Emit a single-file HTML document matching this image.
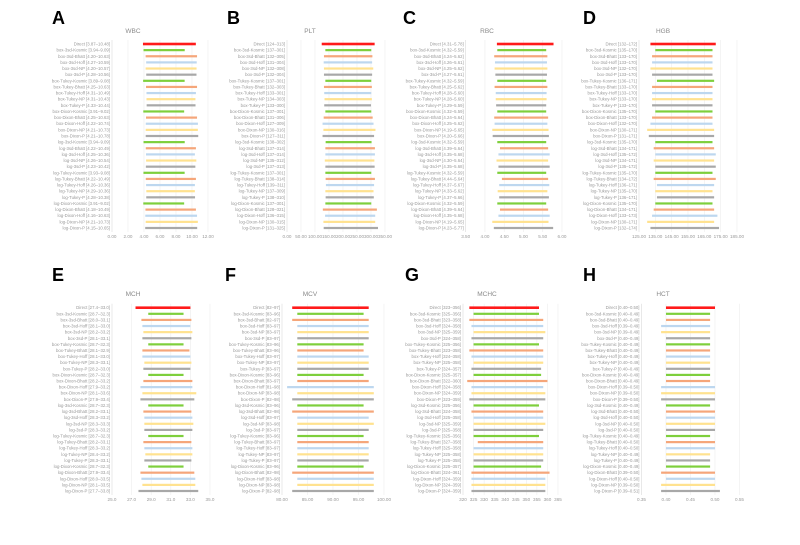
<!DOCTYPE html>
<html><head><meta charset="utf-8"><style>
body{margin:0;background:#fff}
svg{display:block;font-family:"Liberation Sans",sans-serif}
</style></head><body>
<svg id="fig" width="800" height="545" viewBox="0 0 800 545"></svg>
<script>
const methods = ["Direct"];
["box","log"].forEach(t=>["3sd","Tukey","Dixon"].forEach(o=>["Kosmic","Bhatt","Hoff","NP","P"].forEach(m=>methods.push(t+"-"+o+"-"+m))));
const colorByMethod = ["#ff1a1a"].concat(Array(6).fill(["#7ecf3c","#f5a67a","#bdd7ef","#ffe28f","#a8a8a8"]).flat());

const panelNames = ["WBC","PLT","RBC","HGB","MCH","MCV","MCHC","HCT"];
const panelLetters = ["A","B","C","D","E","F","G","H"];

const wbcLow  = [3.87,3.94,4.20,4.27,4.20,4.28,3.89,4.25,4.31,4.31,4.33,3.91,4.25,4.22,4.21,4.21,3.94,4.22,4.25,4.26,4.23,3.93,4.22,4.26,4.29,4.28,3.91,4.18,4.16,4.21,4.15];
const wbcHigh = [10.48,9.09,10.63,10.59,10.57,10.56,9.08,10.63,10.49,10.43,10.44,9.02,10.63,10.74,10.73,10.78,9.09,10.49,10.36,10.54,10.42,9.08,10.49,10.36,10.36,10.38,9.02,10.49,10.63,10.73,10.65];
const pltLow  = [124,137,132,131,132,132,137,132,133,134,133,137,131,127,130,127,138,137,137,135,137,137,138,139,137,138,137,128,136,130,131];
const pltHigh = [313,301,305,304,308,304,301,303,301,303,300,301,306,309,316,311,302,314,314,312,313,301,314,311,309,310,301,321,315,315,325];
const rbcLow  = [4.31,4.32,4.24,4.26,4.25,4.27,4.32,4.25,4.28,4.28,4.29,4.32,4.24,4.25,4.19,4.20,4.32,4.39,4.35,4.30,4.35,4.32,4.44,4.37,4.33,4.37,4.32,4.39,4.35,4.19,4.23];
const rbcHigh = [5.78,5.59,5.62,5.61,5.62,5.61,5.59,5.62,5.60,5.60,5.59,5.59,5.64,5.62,5.65,5.66,5.59,5.64,5.68,5.64,5.68,5.59,5.64,5.67,5.62,5.66,5.59,5.64,5.68,5.65,5.77];
const hgbLow  = [132,135,133,133,132,133,136,133,133,133,133,135,133,132,130,131,135,134,135,134,135,135,134,136,135,136,135,134,133,130,132];
const hgbHigh = [172,170,170,170,170,170,171,170,170,170,170,170,170,170,171,171,170,171,172,171,172,170,172,171,170,171,170,171,173,171,174];
const mchLow  = [27.4,28.7,28.0,28.1,28.2,28.1,28.7,28.1,28.1,28.3,28.2,28.7,28.2,27.9,28.1,27.9,28.7,28.2,28.3,28.3,28.3,28.7,28.2,28.3,28.4,28.3,28.7,27.9,28.0,28.1,27.7];
const mchHigh = [33.0,32.3,33.1,33.0,33.2,33.1,32.3,32.9,33.0,33.1,33.0,32.3,33.2,33.2,33.6,33.4,32.3,33.1,33.2,33.3,33.2,32.3,33.1,33.2,33.2,33.1,32.3,33.4,33.5,33.5,33.8];
const mcvLow  = [82,83,82,83,83,83,83,83,83,83,83,83,83,81,83,82,83,82,83,83,83,83,83,83,83,83,83,82,83,83,82];
const mcvHigh = [97,96,97,97,97,97,96,96,97,97,97,96,97,98,98,98,96,98,97,98,97,96,97,97,97,97,96,98,98,98,98];
const mchcLow  = [323,325,323,324,325,324,325,323,324,325,324,325,322,324,324,323,325,324,325,325,325,325,327,325,325,325,325,324,324,324,324];
const mchcHigh = [356,356,358,358,359,358,356,358,358,358,357,357,360,358,359,359,356,358,358,359,358,356,358,358,358,358,357,361,359,359,359];
const hctLow  = [0.40,0.40,0.40,0.39,0.39,0.40,0.40,0.40,0.40,0.40,0.40,0.40,0.40,0.39,0.39,0.39,0.40,0.40,0.40,0.40,0.40,0.40,0.40,0.40,0.40,0.40,0.40,0.39,0.40,0.39,0.39];
const hctHigh = [0.50,0.49,0.49,0.49,0.49,0.49,0.49,0.49,0.49,0.49,0.49,0.49,0.49,0.50,0.50,0.50,0.49,0.50,0.50,0.50,0.50,0.49,0.50,0.50,0.49,0.49,0.49,0.50,0.50,0.50,0.51];

const wbcTicks = [0,2,4,6,8,10,12];
const pltTicks = [0,50,100,150,200,250,300,350];
const rbcTicks = [3.5,4,4.5,5,5.5,6];
const hgbTicks = [125,135,145,155,165,175,185];
const mchTicks = [25,27,29,31,33,35];
const mcvTicks = [80,85,90,95,100];
const mchcTicks = [320,325,330,335,340,345,350,355,360,365];
const hctTicks = [0.35,0.40,0.45,0.50,0.55];

const lows = [wbcLow,pltLow,rbcLow,hgbLow,mchLow,mcvLow,mchcLow,hctLow];
const highs = [wbcHigh,pltHigh,rbcHigh,hgbHigh,mchHigh,mcvHigh,mchcHigh,hctHigh];
const ticks = [wbcTicks,pltTicks,rbcTicks,hgbTicks,mchTicks,mcvTicks,mchcTicks,hctTicks];
const tickDec = [2,2,2,2,1,2,0,2];
const labelDec = [2,0,2,0,1,0,0,2];

// layout (pixels)
const px0 = [112,287,465.7,639,112,282,463,641.5];
const px1 = [208,385,562,737,210,384,558,739.5];
const titleX = [133,310,487,663,133,310,487,663];
const letterX = [52,227,403,583,52,225,405,583];
const rowTop = [44,307.7], rowBot = [228,491], titleY = [33,296], letterY = [24,281];

const NS = "http://www.w3.org/2000/svg";
const svg = document.getElementById("fig");
function mk(tag, attrs, parent){ const e=document.createElementNS(NS,tag); for(const k in attrs) e.setAttribute(k,attrs[k]); (parent||svg).appendChild(e); return e; }

for(let p=0;p<8;p++){
  const r = p<4?0:1;
  const g = mk("g",{});
  
  
  const tk = ticks[p], dmin=tk[0], dmax=tk[tk.length-1];
  const xs = v => px0[p] + (v-dmin)/(dmax-dmin)*(px1[p]-px0[p]);
  const step = (rowBot[r]-rowTop[r])/(methods.length-1);
  const ys = i => rowTop[r] + i*step;

  const L = mk("text",{x:letterX[p],y:letterY[r],"font-size":18,"font-weight":"bold",fill:"#000"},g);
  L.textContent = panelLetters[p];
  
  
  const T = mk("text",{x:titleX[p],y:titleY[r],"font-size":6.5,fill:"#8a8a8a","text-anchor":"middle"},g);
  T.textContent = panelNames[p];
  
  

  tk.forEach((t,i)=>{
    const x = xs(t);
    const gl = mk("line",{x1:x,x2:x,y1:rowTop[r]-4,y2:rowBot[r]+4,stroke:i===0?"#d9d9d9":"#ececec","stroke-width":0.6},g);
    
    
    const tl = mk("text",{x:x,y:rowBot[r]+10,"font-size":4.6,fill:"#999","text-anchor":"middle"},g);
    tl.textContent = t.toFixed(tickDec[p]);
    
    
  });

  methods.forEach((m,i)=>{
    const y = ys(i);
    const lo = lows[p][i], hi = highs[p][i];
    const lab = mk("text",{x:px0[p]-2,y:y+1.5,"font-size":4.3,fill:"#999","text-anchor":"end"},g);
    lab.textContent = m+" ["+lo.toFixed(labelDec[p])+"\u2013"+hi.toFixed(labelDec[p])+"]";
    
    
    const h = i===0?2.6:2.2;
    const b = mk("rect",{x:xs(lo),y:y-h/2,width:Math.max(0,xs(hi)-xs(lo)),height:h,fill:colorByMethod[i]},g);
    
    
  });
}
</script>
</body></html>
